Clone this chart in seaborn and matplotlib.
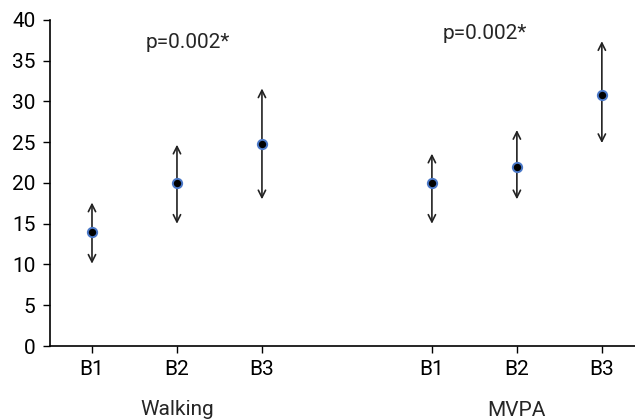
import numpy as np
import pandas as pd
import matplotlib
matplotlib.use("Agg")
import matplotlib.pyplot as plt
import seaborn as sns

# data
groups = ["Walking", "Walking", "Walking", "MVPA", "MVPA", "MVPA"]
periods = ["B1", "B2", "B3", "B1", "B2", "B3"]
positions = [1, 2, 3, 5, 6, 7]
means = [14.0, 20.0, 24.8, 20.0, 22.0, 30.8]
upper = [17.6, 24.7, 31.6, 23.6, 26.5, 37.4]
lower = [10.1, 15.0, 18.0, 15.0, 18.0, 24.9]
p_labels = ["p=0.002*", "p=0.002*"]

df = pd.DataFrame({"group": groups, "period": periods, "pos": positions,
                   "mean": means, "upper": upper, "lower": lower})

sns.set_theme(style="ticks")
plt.rcParams["font.family"] = ["Roboto", "DejaVu Sans"]

fig = plt.figure(figsize=(6.35, 4.19), dpi=100)
ax = fig.add_axes([49.5 / 635, 73 / 419, 1 - 49.5 / 635, 326 / 419])

# arrows from mean to the upper and lower bounds
for _, r in df.iterrows():
    for end in (r["upper"], r["lower"]):
        ax.annotate("", xy=(r["pos"], end), xytext=(r["pos"], r["mean"]),
                    arrowprops=dict(arrowstyle="->", color="#222222", lw=1.2,
                                    mutation_scale=13, shrinkA=0, shrinkB=0))

sns.scatterplot(data=df, x="pos", y="mean", ax=ax, color="black", s=45,
                edgecolor="#4a78c8", linewidth=1.4, zorder=5, legend=False)

ax.set_xlim(0.5, 7.39)
ax.set_ylim(0, 40)
ax.set_yticks(range(0, 41, 5))
ax.set_xticks(positions)
ax.set_xticklabels(periods)
ax.set_xlabel("")
ax.set_ylabel("")
ax.tick_params(axis="both", labelsize=15, length=5, width=1, colors="black", pad=5)
for s in ["left", "bottom"]:
    ax.spines[s].set_color("black")
    ax.spines[s].set_linewidth(1.2)
sns.despine(ax=ax)

# group labels under the axis
ax.text(2, -7.8, "Walking", ha="center", va="center", fontsize=15)
ax.text(6, -7.9, "MVPA", ha="center", va="center", fontsize=15)

# significance labels
ax.text(2.13, 37.2, p_labels[0], ha="center", va="center", fontsize=15)
ax.text(5.62, 38.4, p_labels[1], ha="center", va="center", fontsize=15)

fig.savefig("out.png", dpi=100)
